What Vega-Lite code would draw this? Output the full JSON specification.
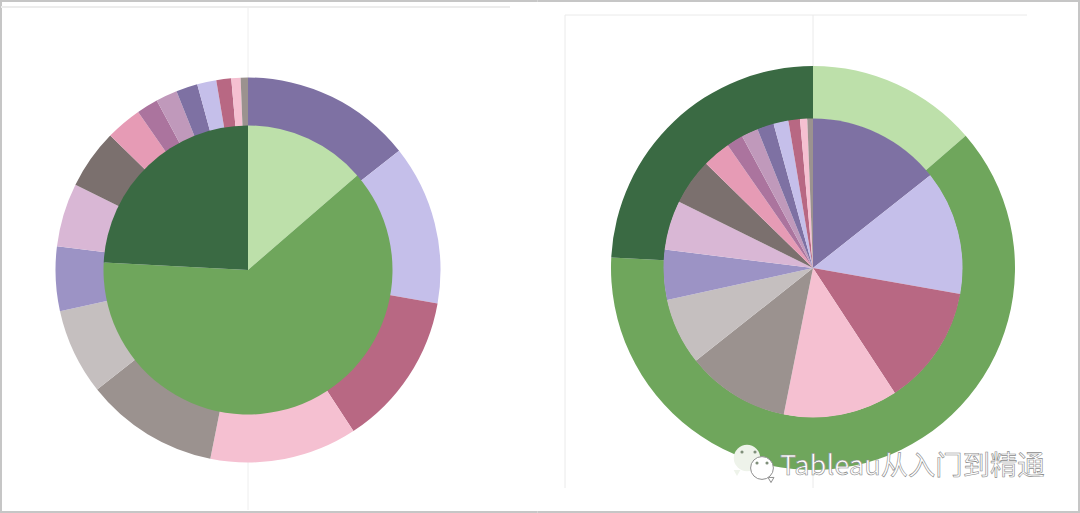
{"$schema":"https://vega.github.io/schema/vega-lite/v6.json","padding":{"left":-1,"top":-2,"right":0,"bottom":0},"background":"#ffffff","spacing":-3,"config":{"view":{"stroke":null}},"datasets":{"parts":[{"seg":"S01","i":1,"share":51.7},{"seg":"S02","i":2,"share":48.3},{"seg":"S03","i":3,"share":46.8},{"seg":"S04","i":4,"share":44.5},{"seg":"S05","i":5,"share":40.3},{"seg":"S06","i":6,"share":26},{"seg":"S07","i":7,"share":19.5},{"seg":"S08","i":8,"share":19.2},{"seg":"S09","i":9,"share":18},{"seg":"S10","i":10,"share":10.9},{"seg":"S11","i":11,"share":6.5},{"seg":"S12","i":12,"share":6.5},{"seg":"S13","i":13,"share":6.5},{"seg":"S14","i":14,"share":5.8},{"seg":"S15","i":15,"share":4.5},{"seg":"S16","i":16,"share":2.8},{"seg":"S17","i":17,"share":2.2}],"groups":[{"seg":"G1","i":1,"share":49.1},{"seg":"G2","i":2,"share":223.9},{"seg":"G3","i":3,"share":87}]},"hconcat":[{"width":510,"height":503,"layer":[{"data":{"values":[{"x":-248,"x2":289.5,"y":269,"y2":269},{"x":-247,"x2":-247,"y":270,"y2":-243},{"x":-248,"x2":289.5,"y":-242,"y2":-242}]},"mark":{"type":"rule","stroke":"#c6c6c6","strokeWidth":2},"encoding":{"x":{"field":"x","type":"quantitative","scale":{"domain":[-248,262],"nice":false,"zero":false},"axis":null},"x2":{"field":"x2"},"y":{"field":"y","type":"quantitative","scale":{"domain":[-240,263],"nice":false,"zero":false},"axis":null},"y2":{"field":"y2"}}},{"data":{"values":[{"x":-247,"x2":262,"y":263,"y2":263}]},"mark":{"type":"rule","stroke":"#ececec","strokeWidth":2},"encoding":{"x":{"field":"x","type":"quantitative"},"x2":{"field":"x2"},"y":{"field":"y","type":"quantitative"},"y2":{"field":"y2"}}},{"data":{"values":[{"x":0,"x2":0,"y":262,"y2":-240}]},"mark":{"type":"rule","stroke":"#eeeeee","strokeWidth":1},"encoding":{"x":{"field":"x","type":"quantitative"},"x2":{"field":"x2"},"y":{"field":"y","type":"quantitative"},"y2":{"field":"y2"}}},{"data":{"name":"parts"},"mark":{"type":"arc","radius":192.5,"radius2":143.5},"encoding":{"x":{"datum":0,"type":"quantitative"},"y":{"datum":0,"type":"quantitative"},"theta":{"field":"share","type":"quantitative","stack":true,"scale":{"domain":[0,360]}},"order":{"field":"i","type":"quantitative"},"color":{"field":"seg","type":"nominal","legend":null,"scale":{"domain":["S01","S02","S03","S04","S05","S06","S07","S08","S09","S10","S11","S12","S13","S14","S15","S16","S17","G1","G2","G3"],"range":["#7e71a3","#c5bfea","#b86883","#f5c0d1","#9b928f","#c5bfbf","#9c93c5","#d9b7d5","#7b706e","#e69bb5","#ab749e","#c099bb","#7e71a3","#c5bfea","#b86883","#f5c0d1","#9b928f","#bde0aa","#6fa65c","#3a6a43"]}}}},{"data":{"name":"groups"},"mark":{"type":"arc","radius":144.5,"radius2":0},"encoding":{"x":{"datum":0,"type":"quantitative"},"y":{"datum":0,"type":"quantitative"},"theta":{"field":"share","type":"quantitative","stack":true,"scale":{"domain":[0,360]}},"order":{"field":"i","type":"quantitative"},"color":{"field":"seg","type":"nominal","legend":null}}}]},{"width":462,"height":503,"layer":[{"data":{"values":[{"x":-275.5,"x2":267,"y":267,"y2":267},{"x":266,"x2":266,"y":268,"y2":-245},{"x":-275.5,"x2":267,"y":-244,"y2":-244}]},"mark":{"type":"rule","stroke":"#c6c6c6","strokeWidth":2},"encoding":{"x":{"field":"x","type":"quantitative","scale":{"domain":[-248,214],"nice":false,"zero":false},"axis":null},"x2":{"field":"x2"},"y":{"field":"y","type":"quantitative","scale":{"domain":[-242,261],"nice":false,"zero":false},"axis":null},"y2":{"field":"y2"}}},{"data":{"values":[{"x":-248,"x2":214,"y":253,"y2":253},{"x":-248,"x2":-248,"y":253,"y2":-220},{"x":0,"x2":0,"y":253,"y2":-220}]},"mark":{"type":"rule","stroke":"#eaeaea","strokeWidth":1},"encoding":{"x":{"field":"x","type":"quantitative"},"x2":{"field":"x2"},"y":{"field":"y","type":"quantitative"},"y2":{"field":"y2"}}},{"data":{"name":"groups"},"mark":{"type":"arc","radius":202,"radius2":149},"encoding":{"x":{"datum":0,"type":"quantitative"},"y":{"datum":0,"type":"quantitative"},"theta":{"field":"share","type":"quantitative","stack":true,"scale":{"domain":[0,360]}},"order":{"field":"i","type":"quantitative"},"color":{"field":"seg","type":"nominal","legend":null,"scale":{"domain":["S01","S02","S03","S04","S05","S06","S07","S08","S09","S10","S11","S12","S13","S14","S15","S16","S17","G1","G2","G3"],"range":["#7e71a3","#c5bfea","#b86883","#f5c0d1","#9b928f","#c5bfbf","#9c93c5","#d9b7d5","#7b706e","#e69bb5","#ab749e","#c099bb","#7e71a3","#c5bfea","#b86883","#f5c0d1","#9b928f","#bde0aa","#6fa65c","#3a6a43"]}}}},{"data":{"name":"parts"},"mark":{"type":"arc","radius":149.5,"radius2":0},"encoding":{"x":{"datum":0,"type":"quantitative"},"y":{"datum":0,"type":"quantitative"},"theta":{"field":"share","type":"quantitative","stack":true,"scale":{"domain":[0,360]}},"order":{"field":"i","type":"quantitative"},"color":{"field":"seg","type":"nominal","legend":null}}},{"data":{"values":[{"x":-76,"y":-205}]},"mark":{"type":"point","shape":"triangle-down","filled":true,"fill":"#eef3ea","size":45,"opacity":1},"encoding":{"x":{"field":"x","type":"quantitative"},"y":{"field":"y","type":"quantitative"}}},{"data":{"values":[{"x":-66,"y":-190}]},"mark":{"type":"point","shape":"circle","filled":true,"fill":"#eef3ea","size":700,"opacity":1},"encoding":{"x":{"field":"x","type":"quantitative"},"y":{"field":"y","type":"quantitative"}}},{"data":{"values":[{"x":-42,"y":-212}]},"mark":{"type":"point","shape":"triangle-down","filled":true,"fill":"#ffffff","stroke":"#8f8f8f","strokeWidth":1,"size":35,"opacity":1},"encoding":{"x":{"field":"x","type":"quantitative"},"y":{"field":"y","type":"quantitative"}}},{"data":{"values":[{"x":-51,"y":-200}]},"mark":{"type":"point","shape":"circle","filled":true,"fill":"#ffffff","stroke":"#8f8f8f","strokeWidth":1,"size":520,"opacity":1},"encoding":{"x":{"field":"x","type":"quantitative"},"y":{"field":"y","type":"quantitative"}}},{"data":{"values":[{"x":-71,"y":-184},{"x":-58,"y":-184},{"x":-56,"y":-195},{"x":-46,"y":-195}]},"mark":{"type":"point","shape":"circle","filled":true,"fill":"#7f8f7a","size":10,"opacity":1},"encoding":{"x":{"field":"x","type":"quantitative"},"y":{"field":"y","type":"quantitative"}}},{"data":{"values":[{"x":-33,"y":-207,"label":"Tableau从入门到精通"}]},"mark":{"type":"text","align":"left","baseline":"alphabetic","font":"Noto Sans CJK SC","fontSize":27.3,"fill":"#ffffff","stroke":"#8a8a8a","strokeWidth":0.6},"encoding":{"x":{"field":"x","type":"quantitative"},"y":{"field":"y","type":"quantitative"},"text":{"field":"label"}}}]}]}
